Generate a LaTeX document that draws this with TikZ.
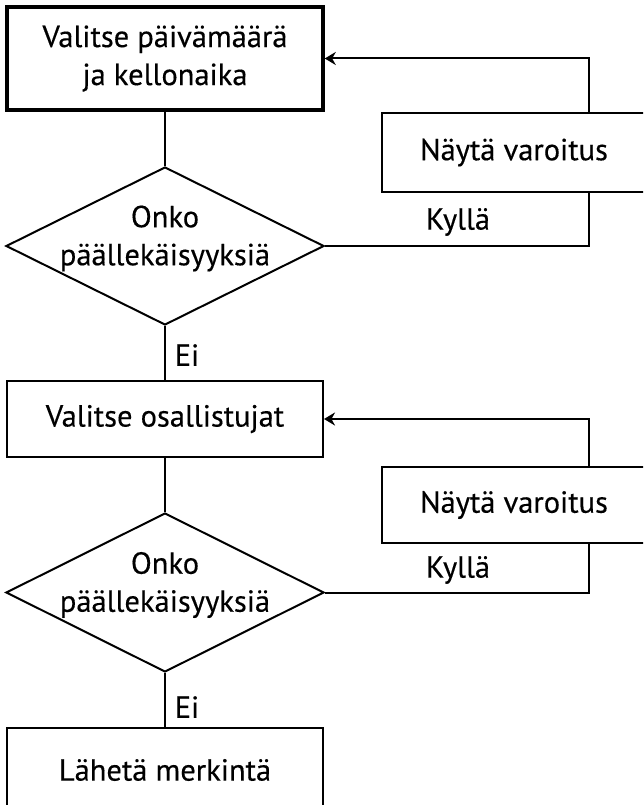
\documentclass[tikz,border=0pt]{standalone}
\usepackage{fontspec}
\setmainfont{PT Sans}[FakeBold=0.35]
\usetikzlibrary{shapes.geometric,arrows.meta}
\begin{document}
\begin{tikzpicture}[x=1pt,y=-1pt,
  every node/.style={font=\fontsize{30.5}{38}\selectfont, text=black},
  box/.style={draw=black, line width=2pt, rectangle, inner sep=0pt, align=center},
  startbox/.style={box, line width=3.5pt},
  decision/.style={draw=black, line width=2pt, diamond, inner sep=0pt, aspect=2},
  conn/.style={draw=black, line width=2pt},
  arr/.style={conn, -{Stealth[length=11pt,width=13pt]}},
  lbl/.style={inner sep=0pt}
]
\useasboundingbox (0,0) rectangle (643,805);
\fill[white] (0,0) rectangle (643,805);
\begin{scope}
\clip (0,0) rectangle (643,805);

% main column
\node[startbox, minimum width=316pt, minimum height=103pt] (b1) at (165,58.5) {Valitse päivämäärä\\ja kellonaika};
\node[decision, minimum width=318pt, minimum height=158pt] (d1) at (165,246) {};
\node[lbl, align=center, yshift=7.5pt] (t1) at (d1.center) {Onko\\päällekäisyyksiä};
\node[box, minimum width=316pt, minimum height=76pt] (b2) at (165,419) {Valitse osallistujat};
\node[decision, minimum width=318pt, minimum height=159pt] (d2) at (165,592.5) {};
\node[lbl, align=center, yshift=7.5pt] (t2) at (d2.center) {Onko\\päällekäisyyksiä};
\node[box, minimum width=316pt, minimum height=84pt] (b3) at (165,770) {Lähetä merkintä};

% warning boxes
\node[box, minimum width=264pt, minimum height=79pt] (w1) at (514,152.5) {Näytä varoitus};
\node[box, minimum width=264pt, minimum height=76pt] (w2) at (514,505) {Näytä varoitus};

\coordinate (kx) at (589,0);

% connectors
\draw[conn] (b1.south) -- (d1.north);
\draw[conn] (d1.south) -- (b2.north);
\draw[conn] (b2.south) -- (d2.north);
\draw[conn] (d2.south) -- (b3.north);

\draw[conn] (d1.east) -| (w1.south -| kx);
\draw[arr] (w1.north -| kx) |- (b1.east);
\draw[conn] (d2.east) -| (w2.south -| kx);
\draw[arr] (w2.north -| kx) |- (b2.east);

% labels
\node[lbl] (ei1) at (187,355) {Ei};
\node[lbl] (ei2) at (187,707) {Ei};
\node[lbl] (ky1) at (458,222) {Kyllä};
\node[lbl] (ky2) at (458,570) {Kyllä};
\end{scope}
\end{tikzpicture}
\end{document}
